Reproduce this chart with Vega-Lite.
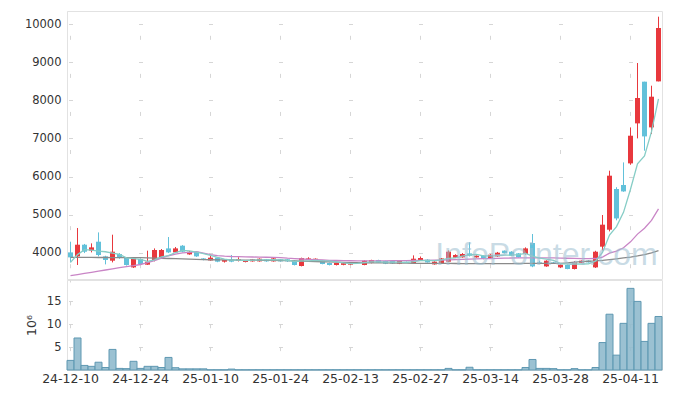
{
  "$schema": "https://vega.github.io/schema/vega-lite/v6.json",
  "autosize": {"type": "pad"},
  "padding": {"left": 23, "top": 10, "right": 10, "bottom": 5},
  "background": "white",
  "config": {
    "font": "DejaVu Sans",
    "view": {"stroke": "#e2e2e2"},
    "axis": {"ticks": false, "domainColor": "#e2e2e2", "gridColor": "#d6d6d6", "labelColor": "#333333", "labelFont": "DejaVu Sans", "titleFont": "DejaVu Sans", "titleColor": "#333333", "titleFontWeight": "normal"}
  },
  "datasets": {"k": [
    {"d":"24-12-10","o":4008,"h":4289,"l":3745,"c":3877,"v":2.1,"m5":3745,"m20":3395,"m60":3877},
    {"d":"24-12-11","o":3903,"h":4649,"l":3677,"c":4210,"v":7.0,"m5":3950,"m20":3425,"m60":3876},
    {"d":"24-12-12","o":4210,"h":4230,"l":3990,"c":4026,"v":1.0,"m5":4080,"m20":3455,"m60":3876},
    {"d":"24-12-13","o":4053,"h":4245,"l":4008,"c":4140,"v":0.8,"m5":4070,"m20":3485,"m60":3875},
    {"d":"24-12-16","o":4289,"h":4533,"l":3903,"c":3940,"v":1.7,"m5":4039,"m20":3515,"m60":3874},
    {"d":"24-12-17","o":3903,"h":3920,"l":3693,"c":3808,"v":0.55,"m5":4025,"m20":3545,"m60":3874},
    {"d":"24-12-18","o":3790,"h":4473,"l":3745,"c":4026,"v":4.5,"m5":3988,"m20":3575,"m60":3873},
    {"d":"24-12-19","o":3966,"h":3990,"l":3840,"c":3860,"v":0.35,"m5":3955,"m20":3605,"m60":3872},
    {"d":"24-12-20","o":3860,"h":3870,"l":3660,"c":3677,"v":0.3,"m5":3862,"m20":3635,"m60":3872},
    {"d":"24-12-23","o":3614,"h":3870,"l":3600,"c":3850,"v":1.9,"m5":3844,"m20":3660,"m60":3871},
    {"d":"24-12-24","o":3834,"h":3850,"l":3690,"c":3703,"v":0.35,"m5":3823,"m20":3690,"m60":3870},
    {"d":"24-12-26","o":3685,"h":4053,"l":3680,"c":3764,"v":0.8,"m5":3771,"m20":3740,"m60":3864},
    {"d":"24-12-27","o":3808,"h":4113,"l":3772,"c":4071,"v":0.8,"m5":3813,"m20":3790,"m60":3859},
    {"d":"24-12-30","o":3869,"h":4097,"l":3850,"c":4071,"v":0.55,"m5":3892,"m20":3860,"m60":3853},
    {"d":"25-01-02","o":4113,"h":4412,"l":3990,"c":4008,"v":2.75,"m5":3923,"m20":3920,"m60":3848},
    {"d":"25-01-03","o":4008,"h":4150,"l":3990,"c":4113,"v":0.5,"m5":4005,"m20":3960,"m60":3842},
    {"d":"25-01-06","o":4184,"h":4200,"l":4010,"c":4026,"v":0.25,"m5":4058,"m20":3995,"m60":3837},
    {"d":"25-01-07","o":3955,"h":4040,"l":3945,"c":4026,"v":0.25,"m5":4049,"m20":4010,"m60":3831},
    {"d":"25-01-08","o":4026,"h":4030,"l":3890,"c":3903,"v":0.25,"m5":4015,"m20":4030,"m60":3826},
    {"d":"25-01-09","o":3850,"h":3860,"l":3800,"c":3816,"v":0.25,"m5":3977,"m20":3990,"m60":3820},
    {"d":"25-01-10","o":3797,"h":3930,"l":3790,"c":3869,"v":0.05,"m5":3928,"m20":3950,"m60":3815},
    {"d":"25-01-13","o":3869,"h":3880,"l":3750,"c":3764,"v":0.05,"m5":3876,"m20":3925,"m60":3813},
    {"d":"25-01-14","o":3764,"h":3820,"l":3740,"c":3808,"v":0.05,"m5":3832,"m20":3910,"m60":3811},
    {"d":"25-01-15","o":3816,"h":3940,"l":3750,"c":3764,"v":0.2,"m5":3804,"m20":3900,"m60":3809},
    {"d":"25-01-16","o":3782,"h":3880,"l":3770,"c":3834,"v":0.05,"m5":3808,"m20":3895,"m60":3807},
    {"d":"25-01-17","o":3755,"h":3800,"l":3745,"c":3790,"v":0.05,"m5":3792,"m20":3890,"m60":3805},
    {"d":"25-01-20","o":3772,"h":3835,"l":3765,"c":3825,"v":0.05,"m5":3804,"m20":3887,"m60":3803},
    {"d":"25-01-21","o":3772,"h":3850,"l":3765,"c":3842,"v":0.05,"m5":3811,"m20":3884,"m60":3801},
    {"d":"25-01-22","o":3825,"h":3835,"l":3760,"c":3772,"v":0.05,"m5":3813,"m20":3880,"m60":3799},
    {"d":"25-01-23","o":3772,"h":3860,"l":3765,"c":3850,"v":0.05,"m5":3816,"m20":3877,"m60":3797},
    {"d":"25-01-24","o":3825,"h":3835,"l":3765,"c":3772,"v":0.05,"m5":3812,"m20":3870,"m60":3795},
    {"d":"25-01-31","o":3825,"h":3835,"l":3760,"c":3772,"v":0.05,"m5":3802,"m20":3855,"m60":3790},
    {"d":"25-02-03","o":3790,"h":3800,"l":3665,"c":3677,"v":0.05,"m5":3769,"m20":3845,"m60":3784},
    {"d":"25-02-04","o":3651,"h":3870,"l":3640,"c":3860,"v":0.05,"m5":3786,"m20":3835,"m60":3779},
    {"d":"25-02-05","o":3816,"h":3880,"l":3810,"c":3850,"v":0.05,"m5":3786,"m20":3825,"m60":3773},
    {"d":"25-02-06","o":3797,"h":3850,"l":3790,"c":3842,"v":0.05,"m5":3800,"m20":3815,"m60":3768},
    {"d":"25-02-07","o":3797,"h":3805,"l":3695,"c":3703,"v":0.05,"m5":3786,"m20":3808,"m60":3762},
    {"d":"25-02-10","o":3729,"h":3740,"l":3665,"c":3677,"v":0.05,"m5":3786,"m20":3800,"m60":3757},
    {"d":"25-02-11","o":3677,"h":3735,"l":3665,"c":3729,"v":0.05,"m5":3760,"m20":3795,"m60":3751},
    {"d":"25-02-12","o":3680,"h":3735,"l":3670,"c":3725,"v":0.05,"m5":3735,"m20":3790,"m60":3746},
    {"d":"25-02-13","o":3685,"h":3740,"l":3675,"c":3735,"v":0.05,"m5":3714,"m20":3788,"m60":3740},
    {"d":"25-02-14","o":3735,"h":3745,"l":3715,"c":3725,"v":0.05,"m5":3718,"m20":3786,"m60":3738},
    {"d":"25-02-17","o":3677,"h":3800,"l":3670,"c":3790,"v":0.05,"m5":3741,"m20":3785,"m60":3736},
    {"d":"25-02-18","o":3729,"h":3815,"l":3720,"c":3808,"v":0.05,"m5":3757,"m20":3785,"m60":3734},
    {"d":"25-02-19","o":3808,"h":3815,"l":3730,"c":3737,"v":0.05,"m5":3759,"m20":3785,"m60":3732},
    {"d":"25-02-20","o":3782,"h":3790,"l":3700,"c":3711,"v":0.05,"m5":3754,"m20":3787,"m60":3730},
    {"d":"25-02-21","o":3782,"h":3790,"l":3710,"c":3720,"v":0.05,"m5":3753,"m20":3788,"m60":3728},
    {"d":"25-02-24","o":3711,"h":3800,"l":3700,"c":3790,"v":0.05,"m5":3753,"m20":3790,"m60":3726},
    {"d":"25-02-25","o":3760,"h":3770,"l":3740,"c":3750,"v":0.05,"m5":3742,"m20":3792,"m60":3724},
    {"d":"25-02-26","o":3719,"h":3930,"l":3710,"c":3842,"v":0.05,"m5":3763,"m20":3795,"m60":3722},
    {"d":"25-02-27","o":3808,"h":3900,"l":3800,"c":3860,"v":0.05,"m5":3792,"m20":3798,"m60":3720},
    {"d":"25-02-28","o":3816,"h":3830,"l":3740,"c":3745,"v":0.05,"m5":3797,"m20":3800,"m60":3719},
    {"d":"25-03-04","o":3693,"h":3775,"l":3685,"c":3764,"v":0.05,"m5":3792,"m20":3803,"m60":3718},
    {"d":"25-03-05","o":3729,"h":3860,"l":3720,"c":3850,"v":0.05,"m5":3812,"m20":3807,"m60":3718},
    {"d":"25-03-06","o":3764,"h":4060,"l":3755,"c":4026,"v":0.35,"m5":3849,"m20":3812,"m60":3717},
    {"d":"25-03-07","o":3869,"h":3960,"l":3860,"c":3940,"v":0.05,"m5":3865,"m20":3818,"m60":3716},
    {"d":"25-03-10","o":3877,"h":3990,"l":3870,"c":3965,"v":0.05,"m5":3909,"m20":3825,"m60":3715},
    {"d":"25-03-11","o":3982,"h":4273,"l":3900,"c":3920,"v":0.6,"m5":3940,"m20":3832,"m60":3714},
    {"d":"25-03-12","o":3877,"h":3930,"l":3870,"c":3920,"v":0.05,"m5":3954,"m20":3838,"m60":3714},
    {"d":"25-03-13","o":3920,"h":3930,"l":3825,"c":3834,"v":0.05,"m5":3916,"m20":3842,"m60":3713},
    {"d":"25-03-14","o":3851,"h":3960,"l":3840,"c":3948,"v":0.05,"m5":3917,"m20":3846,"m60":3712},
    {"d":"25-03-17","o":3903,"h":4020,"l":3890,"c":4000,"v":0.05,"m5":3924,"m20":3850,"m60":3713},
    {"d":"25-03-18","o":4053,"h":4060,"l":3980,"c":3990,"v":0.05,"m5":3938,"m20":3855,"m60":3714},
    {"d":"25-03-19","o":4026,"h":4040,"l":3910,"c":3920,"v":0.05,"m5":3938,"m20":3860,"m60":3715},
    {"d":"25-03-20","o":3982,"h":3990,"l":3870,"c":3877,"v":0.05,"m5":3947,"m20":3863,"m60":3716},
    {"d":"25-03-21","o":3966,"h":4140,"l":3950,"c":4113,"v":0.55,"m5":3980,"m20":3866,"m60":3717},
    {"d":"25-03-24","o":4255,"h":4491,"l":3620,"c":3640,"v":2.3,"m5":3908,"m20":3866,"m60":3718},
    {"d":"25-03-25","o":3745,"h":3790,"l":3700,"c":3719,"v":0.35,"m5":3856,"m20":3865,"m60":3719},
    {"d":"25-03-26","o":3640,"h":3800,"l":3630,"c":3790,"v":0.35,"m5":3830,"m20":3864,"m60":3720},
    {"d":"25-03-27","o":3745,"h":3760,"l":3720,"c":3725,"v":0.3,"m5":3800,"m20":3862,"m60":3721},
    {"d":"25-03-28","o":3614,"h":3690,"l":3600,"c":3685,"v":0.05,"m5":3714,"m20":3858,"m60":3722},
    {"d":"25-03-31","o":3677,"h":3690,"l":3565,"c":3572,"v":0.05,"m5":3700,"m20":3854,"m60":3735},
    {"d":"25-04-01","o":3572,"h":3780,"l":3560,"c":3745,"v":0.3,"m5":3703,"m20":3850,"m60":3750},
    {"d":"25-04-02","o":3737,"h":3800,"l":3730,"c":3790,"v":0.05,"m5":3703,"m20":3846,"m60":3765},
    {"d":"25-04-03","o":3790,"h":3800,"l":3740,"c":3745,"v":0.05,"m5":3707,"m20":3842,"m60":3775},
    {"d":"25-04-04","o":3614,"h":4050,"l":3600,"c":4026,"v":0.55,"m5":3776,"m20":3847,"m60":3785},
    {"d":"25-04-07","o":4158,"h":4990,"l":4060,"c":4736,"v":6.0,"m5":4008,"m20":3885,"m60":3800},
    {"d":"25-04-08","o":4604,"h":6154,"l":4560,"c":6023,"v":12.2,"m5":4464,"m20":3990,"m60":3820},
    {"d":"25-04-09","o":5673,"h":5720,"l":4850,"c":4900,"v":3.25,"m5":4686,"m20":4039,"m60":3840},
    {"d":"25-04-10","o":5778,"h":6372,"l":5600,"c":5610,"v":10.2,"m5":5059,"m20":4128,"m60":3862},
    {"d":"25-04-11","o":6346,"h":7291,"l":6310,"c":7073,"v":17.85,"m5":5668,"m20":4285,"m60":3885},
    {"d":"25-04-14","o":7397,"h":8983,"l":7003,"c":8064,"v":15.0,"m5":6334,"m20":4488,"m60":3915},
    {"d":"25-04-15","o":8492,"h":8492,"l":6680,"c":7055,"v":6.25,"m5":6540,"m20":4641,"m60":3950},
    {"d":"25-04-16","o":7292,"h":8387,"l":7118,"c":8098,"v":10.2,"m5":7180,"m20":4850,"m60":3995},
    {"d":"25-04-17","o":8500,"h":10200,"l":8500,"c":9903,"v":11.7,"m5":8039,"m20":5151,"m60":4053}
  ]},
  "data": {"name": "k"},
  "spacing": -5,
  "vconcat": [
    {
      "width": 595,
      "height": 268,
      "encoding": {
        "x": {"field": "d", "type": "ordinal", "sort": null,
              "scale": {"type": "band", "paddingInner": 0, "paddingOuter": 0},
              "axis": {"values": ["24-12-10","24-12-24","25-01-10","25-01-24","25-02-13","25-02-27","25-03-14","25-03-28","25-04-11"],
                       "labels": false, "domain": false, "ticks": false, "grid": true, "bandPosition": 0.5,
                       "gridDash": [4, 34.07], "gridDashOffset": 13.77, "title": null}}
      },
      "layer": [
        {
          "mark": {"type": "rule", "strokeWidth": 1},
          "encoding": {
            "y": {"field": "l", "type": "quantitative",
                  "scale": {"domain": [3309, 10349], "nice": false, "zero": false},
                  "axis": {"values": [4000,5000,6000,7000,8000,9000,10000], "format": "d", "title": null,
                           "labelFontSize": 11.5, "labelPadding": 6, "grid": true,
                           "gridDash": [4, 66], "gridDashOffset": 68.5}},
            "y2": {"field": "h"},
            "color": {"condition": {"test": "datum.c >= datum.o", "value": "#e8383d"}, "value": "#62c1da"}
          }
        },
        {
          "mark": {"type": "bar", "size": 5},
          "encoding": {
            "y": {"field": "o", "type": "quantitative"},
            "y2": {"field": "c"},
            "color": {"condition": {"test": "datum.c >= datum.o", "value": "#e8383d"}, "value": "#62c1da"}
          }
        },
        {
          "mark": {"type": "line", "strokeWidth": 1.3, "color": "#8a8a8a"},
          "encoding": {"y": {"field": "m60", "type": "quantitative"}}
        },
        {
          "mark": {"type": "line", "strokeWidth": 1.3, "color": "#c985c6"},
          "encoding": {"y": {"field": "m20", "type": "quantitative"}}
        },
        {
          "mark": {"type": "line", "strokeWidth": 1.3, "color": "#86cdc6"},
          "encoding": {"y": {"field": "m5", "type": "quantitative"}}
        },
        {
          "data": {"values": [{"wm": "InfoPointer.com"}]},
          "mark": {"type": "text", "font": "Liberation Sans", "fontSize": 32, "color": "#9dbfd0", "opacity": 0.55, "align": "center", "baseline": "middle"},
          "encoding": {
            "x": {"datum": "25-03-26"},
            "y": {"datum": 3930},
            "text": {"field": "wm"}
          }
        }
      ]
    },
    {
      "width": 595,
      "height": 90,
      "mark": {"type": "bar", "fill": "#90bacd", "stroke": "#5f98b2", "strokeWidth": 1, "fillOpacity": 0.9},
      "encoding": {
        "x": {"field": "d", "type": "ordinal", "sort": null,
              "scale": {"type": "band", "paddingInner": 0, "paddingOuter": 0},
              "axis": {"values": ["24-12-10","24-12-24","25-01-10","25-01-24","25-02-13","25-02-27","25-03-14","25-03-28","25-04-11"],
                       "labelAngle": 0, "labelFontSize": 12.5, "labelPadding": 2, "grid": true, "bandPosition": 0.5,
                       "gridDash": [4, 18.87], "gridDashOffset": 2, "title": null}},
        "y": {"field": "v", "type": "quantitative",
              "scale": {"domain": [0, 19.68], "nice": false},
              "axis": {"values": [5, 10, 15], "title": "10⁶", "titleFontSize": 12.5, "titlePadding": 8,
                       "labelFontSize": 11.5, "labelPadding": 6, "grid": true,
                       "gridDash": [4, 66], "gridDashOffset": 68.5}}
      }
    }
  ]
}
